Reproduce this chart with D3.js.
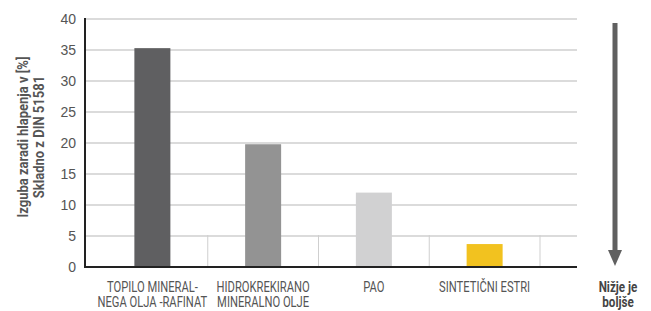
<!DOCTYPE html>
<html><head><meta charset="utf-8">
<script src="https://cdn.jsdelivr.net/npm/d3@7"></script>
<style>body{margin:0;background:#fff}svg{display:block}</style>
</head><body><svg id="c" width="651" height="311"></svg>
<script>
const categories = [["TOPILO MINERAL-","NEGA OLJA -RAFINAT"],["HIDROKREKIRANO","MINERALNO OLJE"],["PAO"],["SINTETIČNI ESTRI"]];
const values = [35.3, 19.8, 12, 3.7];
const colors = ["#5f5f61","#939393","#d1d1d2","#f2c21f"];
const yTicks = [0,5,10,15,20,25,30,35,40];
const yTitle = ["Izguba zaradi hlapenja v [%]","Skladno z DIN 51581"];
const arrowText = ["Nižje je","boljše"];

const svg = d3.select("#c");
const font = "Roboto,'DejaVu Sans Condensed',sans-serif";
const sx = 0.8;
const x0 = 85, x1 = 577;
const y = d3.scaleLinear().domain([0,40]).range([267,19]);
const x = d3.scaleBand().domain(d3.range(categories.length)).range([97,540]).paddingInner(0).paddingOuter(0);
const bw = 36;

// gridlines
svg.append("g").selectAll("line").data(yTicks.filter(d=>d>0)).join("line")
  .attr("x1",x0).attr("x2",x1).attr("y1",d=>y(d)).attr("y2",d=>y(d))
  .attr("stroke","#cfcfcf").attr("stroke-width",1.5);

// separators
svg.append("g").selectAll("line").data(d3.range(categories.length)).join("line")
  .attr("x1",d=>x(d)+x.bandwidth()).attr("x2",d=>x(d)+x.bandwidth())
  .attr("y1",235).attr("y2",267).attr("stroke","#cfcfcf").attr("stroke-width",1);

// bars
svg.append("g").selectAll("rect").data(values).join("rect")
  .attr("x",(d,i)=>x(i)+x.bandwidth()/2-bw/2).attr("width",bw)
  .attr("y",d=>y(d)).attr("height",d=>y(0)-y(d)).attr("fill",(d,i)=>colors[i]);

// axes lines
svg.append("line").attr("x1",x0).attr("x2",x0).attr("y1",y(40)-1).attr("y2",y(0)+1).attr("stroke","#222").attr("stroke-width",2);
svg.append("line").attr("x1",x0).attr("x2",x1).attr("y1",y(0)).attr("y2",y(0)).attr("stroke","#222").attr("stroke-width",2);

// y tick labels
svg.append("g").selectAll("text").data(yTicks).join("text")
  .attr("x",76).attr("y",d=>y(d)).attr("dy","0.35em").attr("text-anchor","end")
  .attr("font-family","'Liberation Sans',Arial,sans-serif").attr("font-size",14).attr("fill","#555").text(d=>d);

// category labels
const cl = svg.append("g").selectAll("text").data(categories).join("text")
  .attr("text-anchor","middle").attr("font-family",font).attr("font-size",14).attr("fill","#555")
  .attr("transform",(d,i)=>`translate(${x(i)+x.bandwidth()/2},0) scale(${sx},1)`);
cl.selectAll("tspan").data(d=>d).join("tspan").attr("x",0).attr("y",(d,j)=>292+j*15).text(d=>d);

// y title
const yt = svg.append("text").attr("transform",`translate(0,137) rotate(-90) scale(0.93,1)`)
  .attr("text-anchor","middle").attr("font-family",font).attr("font-weight","bold").attr("font-size",14).attr("fill","#555");
yt.selectAll("tspan").data(yTitle).join("tspan").attr("x",0).attr("y",(d,i)=>28+i*16).text(d=>d);

// arrow
const ax = 615;
svg.append("line").attr("x1",ax).attr("x2",ax).attr("y1",23).attr("y2",252).attr("stroke","#606060").attr("stroke-width",5);
svg.append("path").attr("d",`M${ax-7},250 L${ax+7},250 L${ax},266 Z`).attr("fill","#606060");
const at = svg.append("text").attr("text-anchor","middle").attr("font-family",font).attr("font-weight","bold").attr("font-size",14).attr("fill","#444")
  .attr("transform",`translate(${ax+3},0) scale(${sx+0.03},1)`);
at.selectAll("tspan").data(arrowText).join("tspan").attr("x",0).attr("y",(d,i)=>292+i*15).text(d=>d);
</script></body></html>
